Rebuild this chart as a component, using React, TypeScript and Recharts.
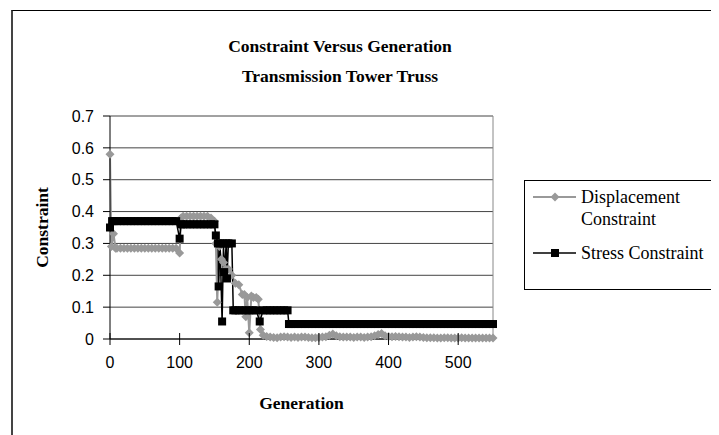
import React from 'react';
import {
  LineChart,
  Line,
  XAxis,
  YAxis,
  CartesianGrid,
  ReferenceLine,
  Label,
} from 'recharts';

const TITLE_1 = 'Constraint Versus Generation';
const TITLE_2 = 'Transmission Tower Truss';

const xTicks = [0, 100, 200, 300, 400, 500];
const yTicks = [0, 0.1, 0.2, 0.3, 0.4, 0.5, 0.6, 0.7];

// Displacement constraint (grey diamonds)
const dispGen = [
  0, 2, 5, 8, 10, 15, 20, 25, 30, 35, 40, 45, 50, 55, 60, 65, 70, 75, 80, 85, 90, 95,
  100, 102, 105, 110, 115, 120, 125, 130, 135, 140, 145, 150, 152, 154, 157, 160, 163,
  166, 170, 175, 180, 185, 190, 193, 195, 197, 200, 203, 206, 210, 213, 216, 220, 225,
  230, 235, 240, 245, 250, 255, 260, 265, 270, 275, 280, 285, 290, 295, 300, 305, 310,
  315, 320, 325, 330, 335, 340, 345, 350, 355, 360, 365, 370, 375, 380, 385, 390, 395,
  400, 405, 410, 415, 420, 425, 430, 435, 440, 445, 450, 455, 460, 465, 470, 475, 480,
  485, 490, 495, 500, 505, 510, 515, 520, 525, 530, 535, 540, 545, 550,
];
const dispVal = [
  0.58, 0.29, 0.33, 0.285, 0.285, 0.285, 0.285, 0.285, 0.285, 0.285, 0.285, 0.285, 0.285,
  0.285, 0.285, 0.285, 0.285, 0.285, 0.285, 0.285, 0.285, 0.285,
  0.27, 0.38, 0.385, 0.385, 0.385, 0.385, 0.385, 0.385, 0.385, 0.385, 0.38, 0.37, 0.3,
  0.115, 0.29, 0.25, 0.24, 0.22, 0.22, 0.2, 0.175, 0.17, 0.14, 0.14, 0.07, 0.13, 0.02,
  0.135, 0.13, 0.13, 0.125, 0.03, 0.012, 0.008,
  0.006, 0.005, 0.004, 0.006, 0.007, 0.006, 0.005, 0.006, 0.005, 0.006, 0.006, 0.005, 0.004,
  0.004, 0.005, 0.006, 0.007, 0.012, 0.016, 0.01, 0.007, 0.006, 0.006, 0.006, 0.005, 0.006,
  0.006, 0.005, 0.006, 0.007, 0.01, 0.014, 0.017, 0.01, 0.008, 0.007, 0.008, 0.007, 0.006,
  0.006, 0.005, 0.006, 0.007, 0.006, 0.005, 0.004, 0.004, 0.004, 0.003, 0.003, 0.004, 0.004,
  0.003, 0.003, 0.003, 0.004, 0.003, 0.003, 0.003, 0.003, 0.003, 0.003, 0.003, 0.003, 0.003,
];

// Stress constraint (black squares)
const stressGen = [
  0, 3, 5, 10, 15, 20, 25, 30, 35, 40, 45, 50, 55, 60, 65, 70, 75, 80, 85, 90, 95,
  100, 102, 105, 110, 115, 120, 125, 130, 135, 140, 145, 150, 152, 155, 156, 158, 161,
  163, 164, 167, 168, 170, 175, 177, 180, 185, 190, 195, 200, 205, 210, 215, 220, 225,
  230, 235, 240, 245, 250, 255, 257, 260, 265, 270, 275, 280, 285, 290, 295, 300, 305,
  310, 315, 320, 325, 330, 335, 340, 345, 350, 355, 360, 365, 370, 375, 380, 385, 390,
  395, 400, 405, 410, 415, 420, 425, 430, 435, 440, 445, 450, 455, 460, 465, 470, 475,
  480, 485, 490, 495, 500, 505, 510, 515, 520, 525, 530, 535, 540, 545, 550,
];
const stressVal = [
  0.35, 0.37, 0.37, 0.37, 0.37, 0.37, 0.37, 0.37, 0.37, 0.37, 0.37, 0.37, 0.37, 0.37,
  0.37, 0.37, 0.37, 0.37, 0.37, 0.37, 0.37,
  0.315, 0.36, 0.36, 0.36, 0.36, 0.36, 0.36, 0.36, 0.36, 0.36, 0.36, 0.36, 0.325, 0.3,
  0.165, 0.3, 0.055, 0.3, 0.21, 0.3, 0.19, 0.3, 0.3, 0.09, 0.09, 0.09, 0.09, 0.09, 0.09,
  0.09, 0.09, 0.055, 0.09, 0.09, 0.09, 0.09, 0.09, 0.09, 0.09, 0.09, 0.047,
  0.047, 0.047, 0.047, 0.047, 0.047, 0.047, 0.047, 0.047, 0.047, 0.047, 0.047, 0.047,
  0.047, 0.047, 0.047, 0.047, 0.047, 0.047, 0.047, 0.047, 0.047, 0.047, 0.047, 0.047,
  0.047, 0.047, 0.047, 0.047, 0.047, 0.047, 0.047, 0.047, 0.047, 0.047, 0.047, 0.047,
  0.047, 0.047, 0.047, 0.047, 0.047, 0.047, 0.047, 0.047, 0.047, 0.047, 0.047, 0.047,
  0.047, 0.047, 0.047, 0.047, 0.047, 0.047, 0.047, 0.047, 0.047, 0.047, 0.047, 0.047,
];

const dispData = dispGen.map((gen, i) => ({ gen, value: dispVal[i] }));
const stressData = stressGen.map((gen, i) => ({ gen, value: stressVal[i] }));

const GREY = '#999999';
const SERIF = '"Liberation Serif", "Times New Roman", serif';
const SANS = '"Liberation Sans", Arial, sans-serif';
const X_TICK_GAP = 18; // tickSize + tickMargin on the x axis

function Diamond(props: any) {
  const { cx, cy } = props;
  if (cx == null || cy == null) return null;
  const r = 4.5;
  return (
    <path
      d={`M${cx},${cy - r}L${cx + r},${cy}L${cx},${cy + r}L${cx - r},${cy}Z`}
      fill={GREY}
      stroke="none"
    />
  );
}

function Square(props: any) {
  const { cx, cy } = props;
  if (cx == null || cy == null) return null;
  return <rect x={cx - 4} y={cy - 4} width={8} height={8} fill="#000" />;
}

// x ticks in the original cross the axis line
function XTick(props: any) {
  const { x, y, payload } = props;
  const axisY = y - X_TICK_GAP;
  return (
    <g>
      <line x1={x} x2={x} y1={axisY - 6} y2={axisY + 6} stroke="#000" />
      <text
        x={x}
        y={y}
        dy="0.71em"
        textAnchor="middle"
        fill="#000"
        style={{ fontFamily: SANS, fontSize: 16 }}
      >
        {payload.value}
      </text>
    </g>
  );
}

function LegendBox() {
  const text: React.CSSProperties = {
    position: 'absolute',
    left: 56,
    whiteSpace: 'nowrap',
    lineHeight: '20px',
  };
  return (
    <div
      style={{
        position: 'absolute',
        left: 516,
        top: 172,
        width: 210,
        height: 110,
        border: '1px solid #000',
        background: '#fff',
        fontFamily: SERIF,
        fontSize: 18,
        color: '#000',
        boxSizing: 'border-box',
      }}
    >
      <svg width={56} height={108} style={{ position: 'absolute', left: 0, top: 0 }}>
        <line x1={8} y1={16} x2={51} y2={16} stroke={GREY} strokeWidth={2} />
        <path d="M30,11.5L34.5,16L30,20.5L25.5,16Z" fill={GREY} />
        <line x1={8} y1={72} x2={51} y2={72} stroke="#000" strokeWidth={1.5} />
        <rect x={26} y={68} width={8} height={8} fill="#000" />
      </svg>
      <div style={{ ...text, top: 6 }}>Displacement</div>
      <div style={{ ...text, top: 28 }}>Constraint</div>
      <div style={{ ...text, top: 62 }}>Stress Constraint</div>
    </div>
  );
}

export default function App() {
  return (
    <div style={{ position: 'relative', width: 711, height: 427, overflow: 'hidden', background: '#fff' }}>
      <div
        style={{
          position: 'absolute',
          left: 3,
          top: 2,
          width: 800,
          height: 600,
          borderLeft: '2px solid #444',
          borderTop: '1px solid #000',
        }}
      />
      <div
        style={{
          position: 'absolute',
          left: 0,
          width: 664,
          top: 23,
          textAlign: 'center',
          fontFamily: SERIF,
          fontWeight: 'bold',
          fontSize: 17.5,
          lineHeight: '30px',
          color: '#000',
        }}
      >
        <div>{TITLE_1}</div>
        <div>{TITLE_2}</div>
      </div>
      <div style={{ position: 'absolute', left: 0, top: 0 }}>
        <LineChart
          width={711}
          height={427}
          margin={{ top: 108, right: 226, bottom: 66, left: 62 }}
        >
          <CartesianGrid vertical={false} stroke="#444" strokeWidth={1} />
          <XAxis
            type="number"
            dataKey="gen"
            domain={[0, 550]}
            ticks={xTicks}
            height={30}
            stroke="#000"
            tickLine={false}
            tickSize={6}
            tickMargin={12}
            tick={<XTick />}
            allowDuplicatedCategory={false}
          >
            <Label
              value="Generation"
              position="bottom"
              offset={28}
              style={{ fontFamily: SERIF, fontWeight: 'bold', fontSize: 17.5, fill: '#000' }}
            />
          </XAxis>
          <YAxis
            type="number"
            domain={[0, 0.7]}
            ticks={yTicks}
            width={40}
            stroke="#000"
            tickSize={7}
            tickMargin={9}
            tick={{ fill: '#000', fontFamily: SANS, fontSize: 16 }}
          >
            <Label
              value="Constraint"
              angle={-90}
              position="left"
              offset={28}
              style={{ fontFamily: SERIF, fontWeight: 'bold', fontSize: 17.5, fill: '#000', textAnchor: 'middle' }}
            />
          </YAxis>
          <ReferenceLine x={550} stroke="#888" strokeWidth={1} />
          <Line
            data={dispData}
            dataKey="value"
            name="Displacement Constraint"
            stroke={GREY}
            strokeWidth={2}
            dot={<Diamond />}
            activeDot={false}
            isAnimationActive={false}
          />
          <Line
            data={stressData}
            dataKey="value"
            name="Stress Constraint"
            stroke="#000"
            strokeWidth={1.5}
            dot={<Square />}
            activeDot={false}
            isAnimationActive={false}
          />
        </LineChart>
      </div>
      <LegendBox />
    </div>
  );
}
